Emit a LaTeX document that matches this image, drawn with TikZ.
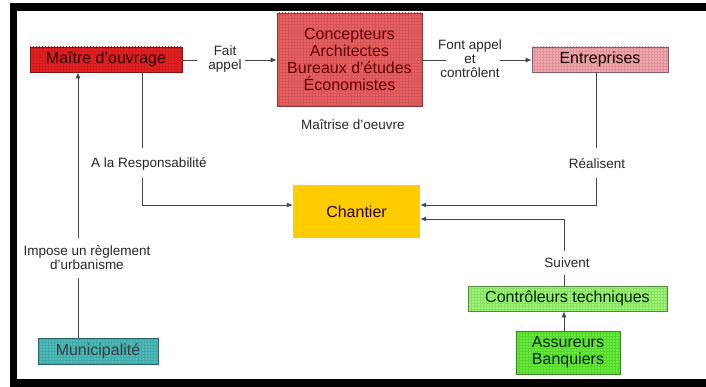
\documentclass[tikz,border=0pt]{standalone}
\usepackage{fontspec}
\setmainfont{Liberation Sans}
\usetikzlibrary{arrows.meta,patterns}

\definecolor{moRed}{RGB}{232,32,34}
\definecolor{concRed}{RGB}{238,96,98}
\definecolor{entPink}{RGB}{246,168,174}
\definecolor{chYellow}{RGB}{255,204,0}
\definecolor{munTeal}{RGB}{76,190,190}
\definecolor{ctlGreen}{RGB}{156,250,116}
\definecolor{assGreen}{RGB}{100,240,56}
\definecolor{linkGray}{RGB}{70,70,70}

\begin{document}
\begin{tikzpicture}[x=1pt,y=-1pt,
  box/.style={preaction={fill=#1}, pattern=grid, pattern color=#1!88!black,
    draw=#1!55!black, line width=0.6pt, inner sep=0pt,
    align=center, font=\fontsize{16}{16.7}\selectfont},
  lbl/.style={inner sep=0pt, align=center, text=black!85,
    font=\fontsize{13.5}{14}\selectfont},
  link/.style={draw=linkGray, line width=0.9pt},
  arr/.style={link, -{Latex[length=6pt,width=5pt]}}]

\useasboundingbox (0,0) rectangle (706,387);
\fill[white] (0,0) rectangle (706,387);

% black frame bands (top, left, bottom)
\fill[black] (10,3) rectangle (706,11);
\fill[black] (10,3) rectangle (17,387);
\fill[black] (10,379) rectangle (706,387);

% boxes
\node[box=moRed, minimum width=152pt, minimum height=25pt, text=black!80!red]
  (mo) at (106,59.5) {Maître d'ouvrage};
\node[box=concRed, minimum width=145pt, minimum height=93pt, text=black!60!red]
  (conc) at (349.5,59.5) {Concepteurs\\Architectes\\Bureaux d'études\\Économistes};
\node[box=entPink, minimum width=136pt, minimum height=25pt, text=black!90!red]
  (ent) at (600,59.5) {Entreprises};
\node[fill=chYellow, inner sep=0pt, minimum width=127pt, minimum height=53pt,
  font=\fontsize{16}{16.7}\selectfont, text=black!85!red]
  (ch) at (356.5,211.5) {Chantier};
\node[box=munTeal, minimum width=120pt, minimum height=26pt, text=black!85!cyan]
  (mun) at (98,351) {Municipalité};
\node[box=ctlGreen, minimum width=199pt, minimum height=25pt, text=black!85!green]
  (ctl) at (567.5,298.5) {Contrôleurs techniques};
\node[box=assGreen, minimum width=104pt, minimum height=43pt, text=black!85!green]
  (ass) at (568,352.5) {Assureurs\\Banquiers};

% labels
\node[lbl] (faitappel) at (225,59) {Fait\\appel};
\node[lbl] (fontappel) at (470,59) {Font appel\\et\\contrôlent};
\node[lbl] (moe) at (353,125) {Maîtrise d'oeuvre};
\node[lbl] (resp) at (149,164) {A la Responsabilité};
\node[lbl] (real) at (597,164) {Réalisent};
\node[lbl] (impose) at (87,258) {Impose un règlement\\d'urbanisme};
\node[lbl] (suiv) at (567,263) {Suivent};

% connector break points
\coordinate (fa-l) at (197,60);
\coordinate (fa-r) at (245,60);
\coordinate (fc-l) at (446,60);
\coordinate (fc-r) at (500,60);
\coordinate (r-top) at (142,148);
\coordinate (r-bot) at (142,178);
\coordinate (r-in) at (0,205);
\coordinate (u-top) at (78,238);
\coordinate (u-bot) at (78,278);
\coordinate (e-top) at (596,148);
\coordinate (e-bot) at (596,178);
\coordinate (e-in) at (0,205);
\coordinate (s-top) at (564,251);
\coordinate (s-bot) at (564,275);
\coordinate (s-in) at (0,219);

% connectors
\draw[link] (mo.east |- fa-l) -- (fa-l);
\draw[arr] (fa-r) -- (conc.west |- fa-r);
\draw[link] (conc.east |- fc-l) -- (fc-l);
\draw[arr] (fc-r) -- (ent.west |- fc-r);

\draw[link] (mo.south -| r-top) -- (r-top);
\draw[arr] (r-bot) |- (ch.west |- r-in);

\draw[link] (mun.north -| u-bot) -- (u-bot);
\draw[arr] (u-top) -- (mo.south -| u-top);

\draw[link] (ent.south -| e-top) -- (e-top);
\draw[arr] (e-bot) |- (ch.east |- e-in);

\draw[link] (ctl.north -| s-bot) -- (s-bot);
\draw[arr] (s-top) |- (ch.east |- s-in);

\draw[arr] (ass.north -| s-top) -- (ctl.south -| s-top);
\end{tikzpicture}
\end{document}
